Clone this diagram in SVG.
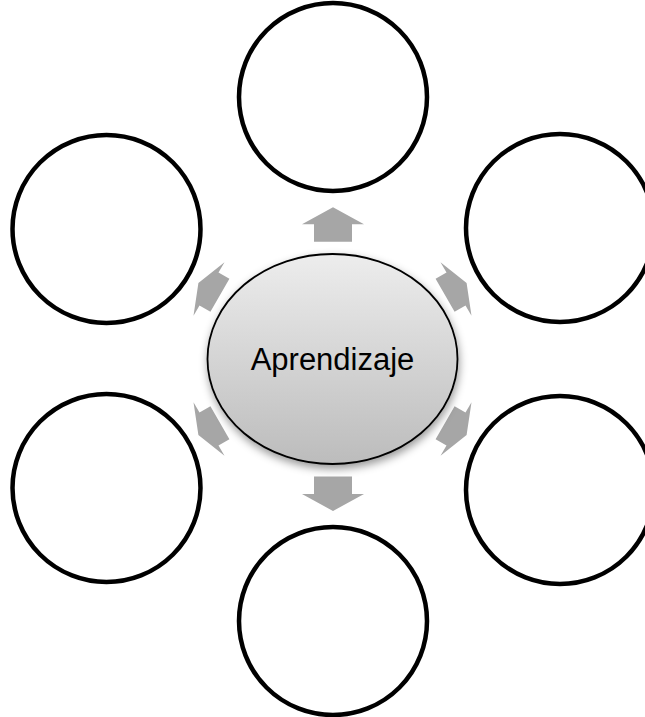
<svg xmlns="http://www.w3.org/2000/svg" width="645" height="717" viewBox="0 0 645 717">
  <style>
    .outer { fill: #ffffff; stroke: #000000; stroke-width: 4.5; }
    .arrow { fill: #a6a6a6; stroke: none; }
    .label { font-family: "Liberation Sans", Arial, sans-serif; font-size: 31px; fill: #000000; }
  </style>
  <defs>
    <linearGradient id="centerGrad" x1="0" y1="0" x2="0" y2="1">
      <stop offset="0" stop-color="#ededed"/>
      <stop offset="1" stop-color="#bcbcbc"/>
    </linearGradient>
    <filter id="shadow" x="-20%" y="-20%" width="140%" height="150%">
      <feDropShadow dx="1" dy="4" stdDeviation="4" flood-color="#000000" flood-opacity="0.4"/>
    </filter>
    <path id="arrowShape" d="M0,-17 L31,0 L19,0 L19,17.5 L-19,17.5 L-19,0 L-31,0 Z"/>
  </defs>
  <rect x="0" y="0" width="645" height="717" fill="#ffffff"/>

  <g id="connectors">
    <use href="#arrowShape" class="arrow" transform="translate(333,224.3)"/>
    <use href="#arrowShape" class="arrow" transform="translate(456,289) rotate(60) scale(1,0.72)"/>
    <use href="#arrowShape" class="arrow" transform="translate(456,429) rotate(120) scale(1,0.72)"/>
    <use href="#arrowShape" class="arrow" transform="translate(333,494) rotate(180)"/>
    <use href="#arrowShape" class="arrow" transform="translate(209,429) rotate(240) scale(1,0.72)"/>
    <use href="#arrowShape" class="arrow" transform="translate(209,289) rotate(300) scale(1,0.72)"/>
  </g>

  <g id="node-top"><circle class="outer" cx="333" cy="97" r="94"/></g>
  <g id="node-upper-right"><circle class="outer" cx="560" cy="228" r="94"/></g>
  <g id="node-lower-right"><circle class="outer" cx="560" cy="490" r="94"/></g>
  <g id="node-bottom"><circle class="outer" cx="333" cy="621" r="94"/></g>
  <g id="node-lower-left"><circle class="outer" cx="106.5" cy="488" r="94"/></g>
  <g id="node-upper-left"><circle class="outer" cx="106.5" cy="229" r="94"/></g>

  <g id="node-center">
    <ellipse cx="332.5" cy="359" rx="125" ry="105" fill="url(#centerGrad)" stroke="#000000" stroke-width="1.8" filter="url(#shadow)"/>
    <text class="label" x="332.5" y="370" text-anchor="middle">Aprendizaje</text>
  </g>
</svg>
